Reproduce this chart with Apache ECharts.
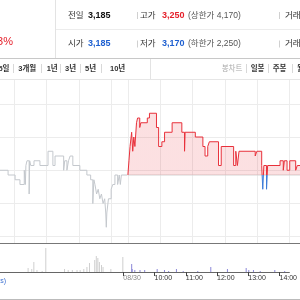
<!DOCTYPE html>
<html><head><meta charset="utf-8">
<script src="https://cdn.jsdelivr.net/npm/echarts@6/dist/echarts.min.js"></script>
<style>html,body{margin:0;padding:0;background:#fff}#c{width:300px;height:300px}</style>
</head><body><div id="c"></div>
<script>
// ---------- data ----------
const prevDay = '08/29';
const today = '08/30';
const prevSession = ['11:34', '15:30'];
const todaySession = ['09:00', '14:19'];
const prevClose = 3185;
const tickLabels = ['08/30', '10:00', '11:00', '12:00', '13:00', '14:00'];
const tickTimes = ['09:00', '10:00', '11:00', '12:00', '13:00', '14:00'];
const prevGridHours = ['12:00', '13:00', '14:00', '15:00'];
const todayGridHours = ['09:00', '10:00', '11:00', '12:00', '13:00', '14:00'];

const prevTimes = ['11:34','11:49','12:02','12:11','12:19','12:21','12:22','12:24','12:28','12:29','12:31','12:37','12:48','13:03','13:12','13:16','13:32','13:34','13:38','13:41','13:44','13:49','14:02','14:15','14:22','14:26','14:28','14:30','14:33','14:36','14:39','14:42','14:45','14:48','14:50','14:51','14:52','14:55','15:00','15:03','15:07','15:12','15:15','15:17','15:19','15:30'];
const prevPrices = [3190,3185,3180,3175,3190,3175,3195,3200,3165,3200,3195,3200,3195,3210,3195,3205,3190,3200,3190,3200,3205,3195,3190,3185,3180,3155,3180,3175,3165,3170,3160,3165,3155,3160,3145,3130,3145,3160,3170,3175,3185,3175,3185,3175,3185,3185];

const todayTimes = ['09:00','09:02','09:04','09:07','09:09','09:11','09:13','09:16','09:18','09:22','09:24','09:36','09:40','09:53','09:57','10:03','10:08','10:22','10:40','10:45','10:46','11:05','11:19','11:23','11:28','11:31','11:48','11:53','12:16','12:20','12:23','12:26','12:56','12:59','13:08','13:10','13:12','13:17','13:19','13:42','13:48','13:50','13:55','14:00','14:11','14:14','14:19'];
const todayPrices = [3185,3200,3215,3230,3210,3225,3215,3240,3245,3235,3240,3245,3250,3235,3215,3220,3230,3240,3230,3210,3230,3225,3215,3205,3215,3220,3195,3215,3195,3210,3195,3210,3205,3210,3195,3170,3195,3170,3195,3200,3190,3200,3190,3200,3190,3195,3195];

const prevVolTimes = ['12:28','12:35','12:39','12:45','12:55','13:02','13:38','13:45','13:53','14:02','14:08','14:15','14:21','14:26','14:36','14:39','14:42','14:45','14:49','14:52','15:07','15:30'];
const prevVols = [4,3,10,2,1,24,3,2,2,2,2,3,5,9,12,16,14,10,7,5,3,15];
const todayVolTimes = ['09:16','09:17','09:22','09:32','09:41','10:05','10:19','10:27','10:42','10:55','11:23','11:48','12:20','12:56','13:01','13:10','13:23','13:51','14:10'];
const todayVols = [8,3,2,2,2,3,2,1,3,1,1,5,3,4,2,2,1,2,1];

// ---------- helpers ----------
function toMin(s){const p=s.split(':');return (+p[0])*60+(+p[1]);}
function fmt(m){const h=Math.floor(m/60),mm=m%60;return (h<10?'0':'')+h+':'+(mm<10?'0':'')+mm;}
const categories = [];
for(let m=toMin(prevSession[0]);m<=toMin(prevSession[1]);m++) categories.push(prevDay+' '+fmt(m));
for(let m=toMin(todaySession[0]);m<=toMin(todaySession[1]);m++) categories.push(today+' '+fmt(m));

const gridSet = new Set(prevGridHours.map(t=>prevDay+' '+t).concat(todayGridHours.map(t=>today+' '+t)));
const tickMap = {};
tickTimes.forEach((t,i)=>{tickMap[today+' '+t]=tickLabels[i];});

const prevData = prevTimes.map((t,i)=>[prevDay+' '+t, prevPrices[i]]);
const todayData = todayTimes.map((t,i)=>[today+' '+t, todayPrices[i]]);
const baseData = [[today+' '+todaySession[0], prevClose],[today+' '+todaySession[1], prevClose]];
const prevVolData = prevVolTimes.map((t,i)=>[prevDay+' '+t, prevVols[i]]);
const todayVolData = todayVolTimes.map((t,i)=>[today+' '+t, todayVols[i]]);

// price scale: prevClose at y=175, 0.95 px per won, grid 71..243
const pxPerWon = 0.95;
const priceMax = prevClose + (175-71)/pxPerWon;
const priceMin = prevClose - (243-175)/pxPerWon;

const FONT = "'Liberation Sans','Noto Sans CJK KR',sans-serif";
function txt(text,x,y,opt){
  opt=opt||{};
  return {type:'text',z:101,silent:true,style:{text:text,x:x,y:y,
    font:(opt.weight||'normal')+' '+(opt.size||8.5)+'px '+FONT,
    fill:opt.color||'#333',textAlign:opt.align||'left',align:opt.align||'left',
    textVerticalAlign:'middle',verticalAlign:'middle'}};
}
function ln(x1,y1,x2,y2,color,w){
  return {type:'line',z:101,silent:true,shape:{x1:x1,y1:y1,x2:x2,y2:y2},style:{stroke:color,lineWidth:w||1}};
}

const graphics = [
  {type:'rect',z:100,silent:true,shape:{x:0,y:0,width:300,height:79.5},style:{fill:'#fff'}},
  ln(55.5,0,55.5,58,'#e3e3e3'),
  ln(56,29.5,300,29.5,'#ececec'),
  ln(0,58.5,300,58.5,'#c8c8c8'),
  ln(0,79.5,300,79.5,'#e6e6e6'),
  ln(150.5,59,150.5,79,'#e3e3e3'),
  txt('+0.63%',13,42,{color:'#e5202b',size:11,align:'right'}),
  txt('전일',68,15.5), txt('3,185',88,15.5,{weight:'bold',size:9,color:'#111'}),
  ln(137.5,12,137.5,19,'#d0d0d0'),
  txt('고가',140,15.5), txt('3,250',162,15.5,{weight:'bold',size:9,color:'#e5202b'}),
  txt('(상한가 4,170)',188,15.5,{size:8.5,color:'#555'}),
  ln(279.5,12,279.5,19,'#d0d0d0'), txt('거래량',285,15.5),
  txt('시가',68,44), txt('3,185',88,44,{weight:'bold',size:9,color:'#1d5fd0'}),
  ln(137.5,40.5,137.5,47.5,'#d0d0d0'),
  txt('저가',140,44), txt('3,170',162,44,{weight:'bold',size:9,color:'#1d5fd0'}),
  txt('(하한가 2,250)',188,44,{size:8.5,color:'#555'}),
  ln(279.5,40.5,279.5,47.5,'#d0d0d0'), txt('거래대금',285,44),
  txt('5일',9.5,68.5,{weight:'bold',size:7.5,align:'right'}),
  ln(13.5,64,13.5,73,'#d8d8d8'),
  txt('3개월',18.3,68.5,{weight:'bold',size:7.5}),
  ln(41.5,64,41.5,73,'#d8d8d8'),
  txt('1년',46.7,68.5,{weight:'bold',size:7.5}),
  ln(60.5,64,60.5,73,'#d8d8d8'),
  txt('3년',65,68.5,{weight:'bold',size:7.5}),
  ln(80.5,64,80.5,73,'#d8d8d8'),
  txt('5년',85,68.5,{weight:'bold',size:7.5}),
  ln(101.5,64,101.5,73,'#d8d8d8'),
  txt('10년',110,68.5,{weight:'bold',size:7.5}),
  txt('봉차트',221.7,68.5,{size:7.5,color:'#aaa'}),
  ln(246.5,64,246.5,73,'#d8d8d8'),
  txt('일봉',250.7,68.5,{weight:'bold',size:7.5}),
  ln(268.5,64,268.5,73,'#d8d8d8'),
  txt('주봉',272.7,68.5,{weight:'bold',size:7.5}),
  ln(292.5,64,292.5,73,'#d8d8d8'),
  txt('월봉',297,68.5,{weight:'bold',size:7.5}),
  ln(0,243.5,300,243.5,'#777'),
  ln(0,299.5,300,299.5,'#bbb'),
  txt('(Ticks)',6,281,{size:7,color:'#3b6fd0',align:'right'})
];

const chart = echarts.init(document.getElementById('c'));
chart.setOption({
  animation:false,
  grid:[
    {left:0,right:0,top:71,height:172},
    {left:0,right:0,top:244,height:28}
  ],
  xAxis:[
    {type:'category',gridIndex:0,data:categories,boundaryGap:false,
     axisLine:{show:false},axisTick:{show:false},axisLabel:{show:false},
     splitLine:{show:true,interval:(i,v)=>gridSet.has(v),lineStyle:{color:'#ececec',width:1}}},
    {type:'category',gridIndex:1,data:categories,boundaryGap:false,
     axisLine:{show:true,lineStyle:{color:'#666',width:1}},
     axisTick:{show:true,interval:(i,v)=>v in tickMap,length:4,lineStyle:{color:'#444'}},
     axisLabel:{show:true,interval:(i,v)=>v in tickMap,margin:3,align:'left',
       fontSize:7,fontFamily:FONT,color:'#333',
       formatter:(v)=>{const l=tickMap[v]||'';return l.indexOf('/')>=0?'{d|'+l+'}':l;},
       rich:{d:{color:'#888',fontSize:7,fontFamily:FONT}}},
     splitLine:{show:false}}
  ],
  yAxis:[
    {type:'value',gridIndex:0,min:priceMin,max:priceMax,show:false},
    {type:'value',gridIndex:0,inverse:true,min:0,max:172,interval:33,
     axisLine:{show:false},axisTick:{show:false},axisLabel:{show:false},
     splitLine:{show:true,lineStyle:{color:'#ececec',width:1}}},
    {type:'value',gridIndex:1,min:0,max:28,show:false,splitLine:{show:false}}
  ],
  visualMap:{show:false,type:'piecewise',seriesIndex:0,dimension:1,
    pieces:[{gte:2000,lt:prevClose,color:'#3b7bd8'},{gte:prevClose,lte:5000,color:'#e8303a'}]},
  series:[
    {type:'line',name:'today',xAxisIndex:0,yAxisIndex:0,data:todayData,step:'end',
     symbol:'none',lineStyle:{width:1},z:3,
     areaStyle:{origin:prevClose,opacity:0.15}},
    {type:'line',name:'base',xAxisIndex:0,yAxisIndex:0,data:baseData,
     symbol:'none',lineStyle:{width:1,color:'#d4d4d4'},z:2},
    {type:'line',name:'prev',xAxisIndex:0,yAxisIndex:0,data:prevData,step:'end',
     symbol:'none',lineStyle:{width:1,color:'#c4c8cd'},itemStyle:{color:'#c4c8cd'}},
    {type:'bar',xAxisIndex:1,yAxisIndex:2,data:prevVolData,barWidth:1,
     itemStyle:{color:'#cfcfcf'},barGap:'-100%'},
    {type:'bar',xAxisIndex:1,yAxisIndex:2,data:todayVolData,barWidth:1,
     itemStyle:{color:'#8c88d8'},barGap:'-100%'}
  ],
  graphic:graphics
});
</script></body></html>
